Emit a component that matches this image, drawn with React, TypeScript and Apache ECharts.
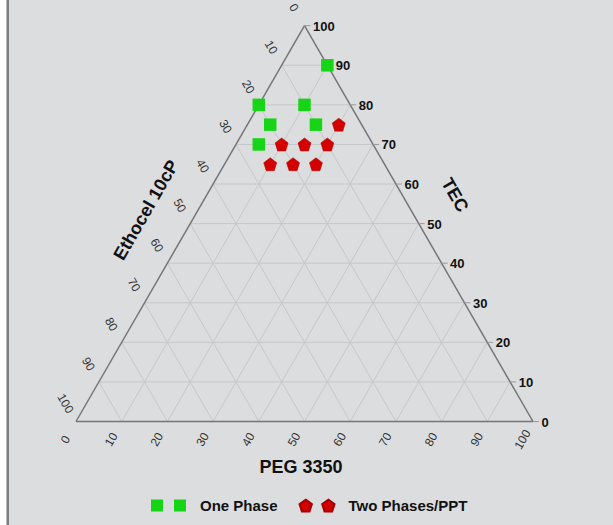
import React, { useEffect, useRef } from "react";
import * as echarts from "echarts";

// Ternary data: TEC (top), PEG 3350 (bottom-right), Ethocel 10cP (bottom-left)
const onePhaseTEC = [90, 80, 80, 75, 75, 70];
const onePhasePEG = [10, 0, 10, 5, 15, 5];
const onePhaseEth = [0, 20, 10, 20, 10, 25];

const twoPhaseTEC = [75, 70, 70, 70, 65, 65, 65];
const twoPhasePEG = [20, 10, 15, 20, 10, 15, 20];
const twoPhaseEth = [5, 20, 15, 10, 25, 20, 15];

const ticks = [0, 10, 20, 30, 40, 50, 60, 70, 80, 90, 100];
const gridSteps = [10, 20, 30, 40, 50, 60, 70, 80, 90];

const seriesNames = ["One Phase", "Two Phases/PPT"];
const axisTitles = { bottom: "PEG 3350", left: "Ethocel 10cP", right: "TEC" };

const S3 = Math.sqrt(3) / 2;
const FONT = "'Liberation Sans', Arial, Helvetica, sans-serif";

// ternary -> cartesian (x 0..100, y 0..86.6)
function toXY(tec: number, peg: number, eth: number): [number, number] {
  const s = tec + peg + eth;
  const t = (tec / s) * 100;
  const p = (peg / s) * 100;
  return [p + t / 2, t * S3];
}

const PENT =
  "path://M0,-10L9.511,-3.09L5.878,8.09L-5.878,8.09L-9.511,-3.09Z";
const LEG_SQUARES = "path://M0,0h12v12H0z M23,0h12v12H23z";
function pentPts(cx: number, cy: number, r: number) {
  const pts: string[] = [];
  for (let i = 0; i < 5; i++) {
    const a = -Math.PI / 2 + (i * 2 * Math.PI) / 5;
    pts.push((cx + r * Math.cos(a)).toFixed(2) + "," + (cy + r * Math.sin(a)).toFixed(2));
  }
  return "M" + pts.join("L") + "Z";
}
const LEG_PENTS = "path://" + pentPts(6.3, 6.6, 6.6) + " " + pentPts(29.3, 6.6, 6.6);

export default function App() {
  const ref = useRef<HTMLDivElement>(null);

  useEffect(() => {
    if (!ref.current) return;
    const chart = echarts.init(ref.current, null, { renderer: "svg" });

    // grid segments [x1,y1,x2,y2]
    const gridSegs: number[][] = [];
    gridSteps.forEach((v) => {
      const a = toXY(v, 0, 100 - v);
      const b = toXY(v, 100 - v, 0);
      gridSegs.push([a[0], a[1], b[0], b[1]]);
      const c = toXY(0, v, 100 - v);
      const d = toXY(100 - v, v, 0);
      gridSegs.push([c[0], c[1], d[0], d[1]]);
      const e = toXY(100 - v, 0, v);
      const f = toXY(0, 100 - v, v);
      gridSegs.push([e[0], e[1], f[0], f[1]]);
    });
    const A = toXY(0, 0, 100);
    const B = toXY(0, 100, 0);
    const C = toXY(100, 0, 0);
    const edgeSegs = [
      [A[0], A[1], B[0], B[1]],
      [B[0], B[1], C[0], C[1]],
      [C[0], C[1], A[0], A[1]],
    ];

    const leftLabels = ticks.map((t) => {
      const p = toXY(100 - t, 0, t);
      return [p[0], p[1], t];
    });
    const bottomLabels = ticks.map((t) => {
      const p = toXY(0, t, 100 - t);
      return [p[0], p[1], t];
    });
    const rightLabels = ticks.map((t) => {
      const p = toXY(t, 100 - t, 0);
      return [p[0], p[1], t];
    });

    const segRender = (color: string, width: number) => (params: any, api: any) => {
      const p1 = api.coord([api.value(0), api.value(1)]);
      const p2 = api.coord([api.value(2), api.value(3)]);
      return {
        type: "line",
        shape: { x1: p1[0], y1: p1[1], x2: p2[0], y2: p2[1] },
        style: { stroke: color, lineWidth: width },
        silent: true,
      };
    };

    const onePhaseData = onePhaseTEC.map((t, i) => toXY(t, onePhasePEG[i], onePhaseEth[i]));
    const twoPhaseData = twoPhaseTEC.map((t, i) => toXY(t, twoPhasePEG[i], twoPhaseEth[i]));

    const option: any = {
      animation: false,
      backgroundColor: "#dcdddf",
      grid: { left: 76, top: 25.7, width: 457, height: 395.8, containLabel: false },
      xAxis: { type: "value", min: 0, max: 100, show: false },
      yAxis: { type: "value", min: 0, max: 100 * S3, show: false },
      legend: {
        data: [
          { name: seriesNames[0], icon: LEG_SQUARES },
          { name: seriesNames[1], icon: LEG_PENTS },
        ],
        left: 146,
        top: 493,
        itemWidth: 35,
        itemHeight: 12,
        itemGap: 21,
        selectedMode: false,
        textStyle: {
          fontFamily: FONT,
          fontWeight: "bold",
          fontSize: 15,
          color: "#111",
          padding: [0, 0, 0, 9],
        },
      },
      graphic: [
        { type: "rect", left: 0, top: 0, shape: { x: 0, y: 0, width: 6.5, height: 525 }, style: { fill: "#ffffff" } },
        { type: "rect", left: 6.5, top: 0, shape: { x: 0, y: 0, width: 2.5, height: 525 }, style: { fill: "#808080" } },
        {
          type: "text",
          x: 301,
          y: 467,
          style: { text: axisTitles.bottom, font: "bold 18px " + FONT, fill: "#111", align: "center", verticalAlign: "middle" },
        },
        {
          type: "text",
          x: 146,
          y: 210,
          rotation: Math.PI / 3,
          style: { text: axisTitles.left, font: "bold 18px " + FONT, fill: "#111", align: "center", verticalAlign: "middle" },
        },
        {
          type: "text",
          x: 455,
          y: 195,
          rotation: -Math.PI / 3,
          style: { text: axisTitles.right, font: "bold 18px " + FONT, fill: "#111", align: "center", verticalAlign: "middle" },
        },
      ],
      series: [
        {
          type: "custom",
          name: "grid",
          silent: true,
          data: gridSegs,
          renderItem: segRender("#c6c7c9", 1),
          z: 1,
        },
        {
          type: "custom",
          name: "edges",
          silent: true,
          data: edgeSegs,
          renderItem: segRender("#767676", 1.5),
          z: 2,
        },
        {
          type: "custom",
          name: "leftLabels",
          silent: true,
          data: leftLabels,
          renderItem: (params: any, api: any) => {
            const p = api.coord([api.value(0), api.value(1)]);
            return {
              type: "text",
              x: p[0] - 10.5,
              y: p[1] - 18,
              rotation: -Math.PI / 3,
              style: { text: String(api.value(2)), font: "12px " + FONT, fill: "#333", align: "center", verticalAlign: "middle" },
            };
          },
          z: 3,
        },
        {
          type: "custom",
          name: "bottomLabels",
          silent: true,
          data: bottomLabels,
          renderItem: (params: any, api: any) => {
            const p = api.coord([api.value(0), api.value(1)]);
            return {
              type: "text",
              x: p[0] - 10.5,
              y: p[1] + 18,
              rotation: Math.PI / 3,
              style: { text: String(api.value(2)), font: "12px " + FONT, fill: "#333", align: "center", verticalAlign: "middle" },
            };
          },
          z: 3,
        },
        {
          type: "custom",
          name: "rightLabels",
          silent: true,
          data: rightLabels,
          renderItem: (params: any, api: any) => {
            const p = api.coord([api.value(0), api.value(1)]);
            return {
              type: "group",
              children: [
                {
                  type: "line",
                  shape: { x1: p[0], y1: p[1], x2: p[0] + 6, y2: p[1] },
                  style: { stroke: "#9a9a9a", lineWidth: 1 },
                },
                {
                  type: "text",
                  x: p[0] + 8.5,
                  y: p[1] + 0.5,
                  style: { text: String(api.value(2)), font: "bold 13px " + FONT, fill: "#111", align: "left", verticalAlign: "middle" },
                },
              ],
            };
          },
          z: 3,
        },
        {
          type: "scatter",
          name: seriesNames[0],
          data: onePhaseData,
          symbol: "rect",
          symbolSize: 12.5,
          itemStyle: { color: "#16d516", opacity: 1 },
          z: 5,
        },
        {
          type: "scatter",
          name: seriesNames[1],
          data: twoPhaseData,
          symbol: PENT,
          symbolSize: 13,
          itemStyle: { color: "#d40000", borderColor: "#a80000", borderWidth: 0.5, opacity: 1 },
          z: 5,
        },
      ],
    };

    chart.setOption(option);
    return () => chart.dispose();
  }, []);

  return (
    <div
      ref={ref}
      style={{ position: "absolute", left: 0, top: 0, width: 613, height: 525 }}
    />
  );
}
